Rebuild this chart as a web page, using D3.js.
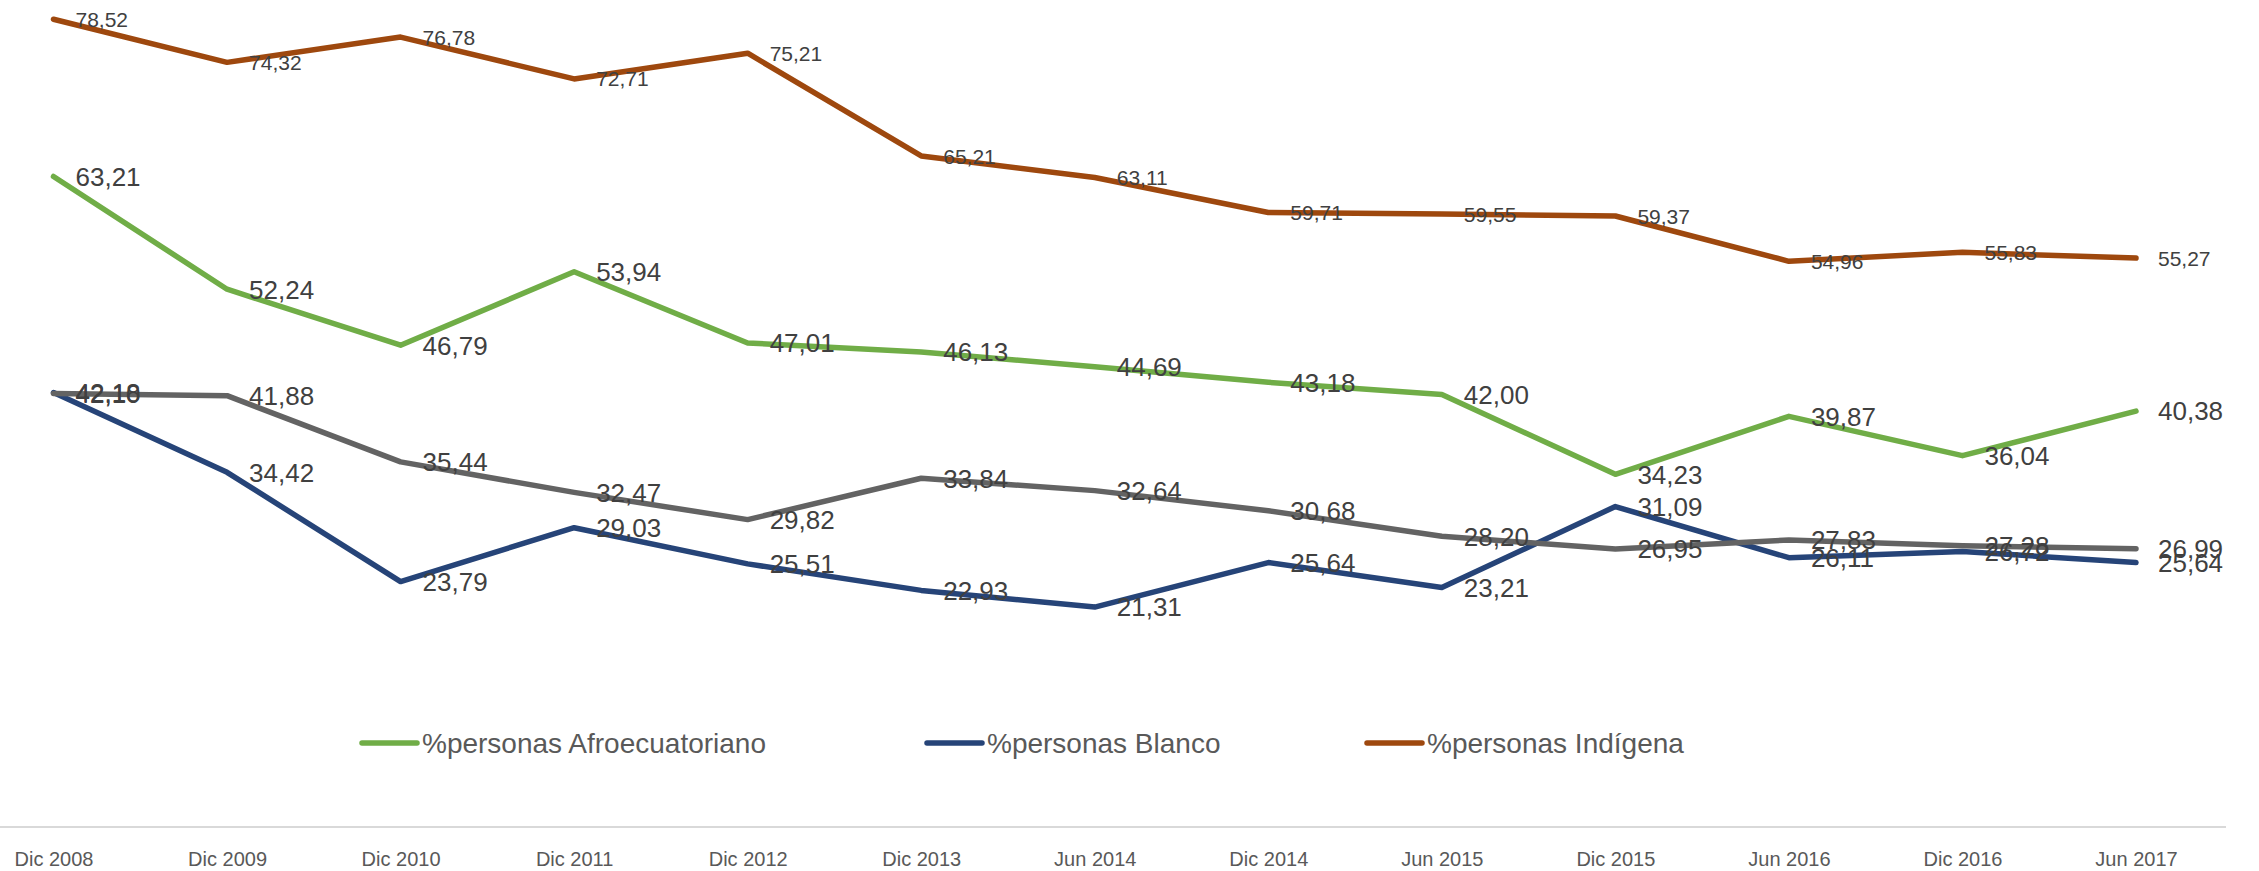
<html>
<meta charset="utf-8">
<title>Pobreza por etnia</title>
<style>
  body { margin: 0; background: #fff; }
  text { font-family: "Liberation Sans", Arial, sans-serif; }
</style>
<div id="chartContainer"></div>
<script src="https://cdn.jsdelivr.net/npm/d3@7"></script>
<script type="text/javascript">
// values
var categories = ["Dic 2008", "Dic 2009", "Dic 2010", "Dic 2011", "Dic 2012", "Dic 2013", "Jun 2014",
                  "Dic 2014", "Jun 2015", "Dic 2015", "Jun 2016", "Dic 2016", "Jun 2017"];
var afro     = [63.21, 52.24, 46.79, 53.94, 47.01, 46.13, 44.69, 43.18, 42.00, 34.23, 39.87, 36.04, 40.38];
var blanco   = [42.18, 34.42, 23.79, 29.03, 25.51, 22.93, 21.31, 25.64, 23.21, 31.09, 26.11, 26.72, 25.64];
var indigena = [78.52, 74.32, 76.78, 72.71, 75.21, 65.21, 63.11, 59.71, 59.55, 59.37, 54.96, 55.83, 55.27];
var mestizo  = [42.10, 41.88, 35.44, 32.47, 29.82, 33.84, 32.64, 30.68, 28.20, 26.95, 27.83, 27.28, 26.99];
var legendNames = ["%personas Afroecuatoriano", "%personas Blanco", "%personas Indígena"];

var W = 2259, H = 871;
var svg = d3.select("#chartContainer").append("svg")
  .attr("width", W).attr("height", H);

var x = d3.scalePoint().domain(categories).range([53.5, 2136]);
var y = d3.scaleLinear().domain([0, 80]).range([826, 4]);

var series = [
  {values: afro,     color: "#70ad47", fs: 26},
  {values: blanco,   color: "#264478", fs: 26},
  {values: indigena, color: "#9e480e", fs: 21},
  {values: mestizo,  color: "#636363", fs: 26}
];

// axis line
svg.append("line")
  .attr("x1", 0).attr("x2", 2226)
  .attr("y1", 827).attr("y2", 827)
  .style("stroke", "#d9d9d9")
  .style("stroke-width", 2);

var xAxis = svg.append("g")
  .attr("transform", "translate(0,827)")
  .call(d3.axisBottom(x).tickSize(0).tickPadding(25));
xAxis.select(".domain").remove();
xAxis.selectAll("text")
  .style("font-family", "Liberation Sans, Arial, sans-serif")
  .style("font-size", "20px")
  .style("fill", "#595959");

var line = d3.line()
  .x(function (d, i) { return x(categories[i]); })
  .y(function (d) { return y(d); });

series.forEach(function (s) {
  svg.append("path")
    .datum(s.values)
    .attr("d", line)
    .style("fill", "none")
    .style("stroke", s.color)
    .style("stroke-width", 5.5)
    .style("stroke-linejoin", "round")
    .style("stroke-linecap", "round");
});

// data labels, right of each point
series.forEach(function (s) {
  svg.append("g").selectAll("text")
    .data(s.values)
    .enter().append("text")
    .attr("x", function (d, i) { return x(categories[i]) + 22; })
    .attr("y", function (d) { return y(d); })
    .attr("dy", "0.36em")
    .style("font-size", s.fs + "px")
    .style("fill", "#404040")
    .text(function (d) { return d3.format(".2f")(d).replace(".", ","); });
});

// legend
var legendX = [362, 927, 1367];
legendNames.forEach(function (name, i) {
  var g = svg.append("g").attr("transform", "translate(" + legendX[i] + ",743)");
  g.append("line")
    .attr("x1", 0).attr("x2", 55)
    .attr("y1", 0).attr("y2", 0)
    .style("stroke", series[i].color)
    .style("stroke-width", 5.5)
    .style("stroke-linecap", "round");
  g.append("text")
    .attr("x", 60)
    .attr("dy", "0.36em")
    .style("font-size", "28px")
    .style("fill", "#595959")
    .text(name);
});
</script>
</html>
